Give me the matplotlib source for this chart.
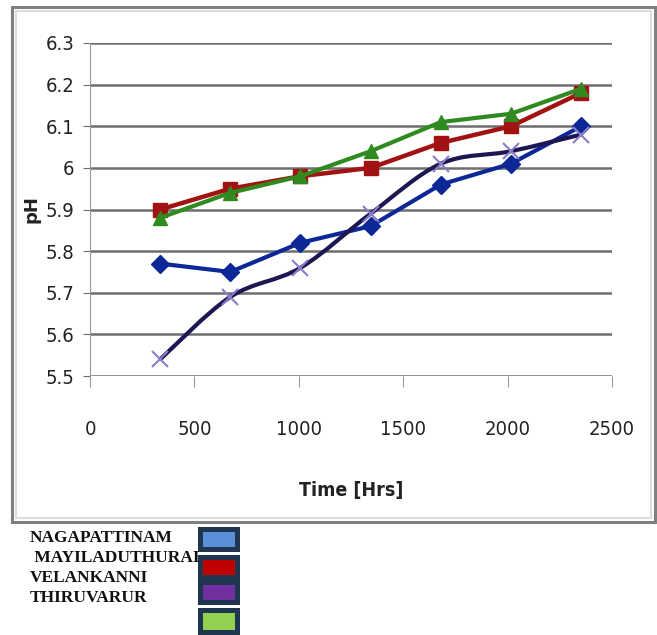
import matplotlib
matplotlib.use("Agg")
import matplotlib.pyplot as plt
from matplotlib.patches import Rectangle, PathPatch
from matplotlib.path import Path
from matplotlib import font_manager

# time in hours
hours = [336, 672, 1008, 1344, 1680, 2016, 2352]
nagapattinam = [5.77, 5.75, 5.82, 5.86, 5.96, 6.01, 6.10]
mayiladuthurai = [5.90, 5.95, 5.98, 6.00, 6.06, 6.10, 6.18]
velankanni = [5.54, 5.69, 5.76, 5.89, 6.01, 6.04, 6.08]
thiruvarur = [5.88, 5.94, 5.98, 6.04, 6.11, 6.13, 6.19]

site_names = ["NAGAPATTINAM", " MAYILADUTHURAI", "VELANKANNI", "THIRUVARUR"]
swatch_colors = ["#5b8fd8", "#c00000", "#7030a0", "#92d050"]

W, H = 657, 635
fig = plt.figure(figsize=(W / 100, H / 100), dpi=100)

# outer chart frame
fig.patches.append(Rectangle((12 / W, 1 - 522 / H), 643 / W, 515 / H, transform=fig.transFigure,
                             fill=False, edgecolor="#808080", lw=2.2))
fig.patches.append(Rectangle((16 / W, 1 - 518 / H), 635 / W, 507 / H, transform=fig.transFigure,
                             fill=False, edgecolor="#dddddd", lw=1.5))

ax = fig.add_axes([90 / W, 1 - 376 / H, 522 / W, 333 / H])

# narrow font for the axis text, if one is around
names = {f.name for f in font_manager.fontManager.ttflist}
narrow = "Liberation Sans Narrow" if "Liberation Sans Narrow" in names else "DejaVu Sans"
print(narrow, sorted(n for n in names if "Narrow" in n or "Condensed" in n))


def smooth_path(xs, ys):
    # Catmull-Rom style curve through the points (like a spreadsheet "smoothed line")
    verts = [(xs[0], ys[0])]
    codes = [Path.MOVETO]
    n = len(xs)
    for i in range(n - 1):
        x0, y0 = (xs[i - 1], ys[i - 1]) if i > 0 else (xs[i], ys[i])
        x1, y1 = xs[i], ys[i]
        x2, y2 = xs[i + 1], ys[i + 1]
        x3, y3 = (xs[i + 2], ys[i + 2]) if i + 2 < n else (x2, y2)
        verts += [(x1 + (x2 - x0) / 6, y1 + (y2 - y0) / 6),
                  (x2 - (x3 - x1) / 6, y2 - (y3 - y1) / 6),
                  (x2, y2)]
        codes += [Path.CURVE4] * 3
    return Path(verts, codes)


ax.plot(hours, nagapattinam, color="#0c2796", lw=3, marker="D", ms=9, zorder=3)
ax.plot(hours, mayiladuthurai, color="#a31212", lw=3.2, marker="s", ms=10, zorder=3)
ax.add_patch(PathPatch(smooth_path(hours, velankanni), fill=False, edgecolor="#1c1752", lw=3, zorder=3))
ax.plot(hours, velankanni, ls="none", marker="x", ms=12, mew=1.5, color="#8a7cc8", zorder=4)
ax.plot(hours, thiruvarur, color="#2f8a1f", lw=3, marker="^", ms=10, zorder=4)

ax.set_xlim(0, 2500)
ax.set_ylim(5.5, 6.3)
ax.set_xticks([0, 500, 1000, 1500, 2000, 2500])
ax.set_yticks([5.5, 5.6, 5.7, 5.8, 5.9, 6.0, 6.1, 6.2, 6.3])
ax.set_yticklabels(["5.5", "5.6", "5.7", "5.8", "5.9", "6", "6.1", "6.2", "6.3"])
ax.grid(axis="y", color="#6e6e6e", lw=1.8)
ax.set_axisbelow(True)
for s in ["top", "right", "bottom"]:
    ax.spines[s].set_visible(False)
ax.spines["left"].set_color("#9a9a9a")
ax.tick_params(axis="y", length=5, color="#6e6e6e", pad=6)
ax.tick_params(axis="x", length=8, color="#9a9a9a", pad=24)
for lab in ax.get_xticklabels() + ax.get_yticklabels():
    lab.set_family(narrow)
    lab.set_fontsize(16 if narrow != "DejaVu Sans" else 14.5)
    lab.set_stretch("condensed")
    lab.set_color("#222222")

ax.set_xlabel("Time [Hrs]", family=narrow, fontsize=14, fontweight="bold", color="#222222",
              labelpad=30, fontstretch="condensed")
ax.set_ylabel("pH", family=narrow, fontsize=13, fontweight="bold", color="#222222", labelpad=4)

# legend drawn below the chart frame
text_y = [538, 558, 578, 598]
for name, ty in zip(site_names, text_y):
    fig.text(30 / W, 1 - ty / H, name, family=["Liberation Serif", "DejaVu Serif"], fontweight="bold",
             fontsize=12.5, va="center", ha="left", color="#111111")

frames = [(527, 552), (555, 580), (580, 605), (608, 635)]
for (t, b), c in zip(frames, swatch_colors):
    fig.patches.append(Rectangle((198 / W, 1 - b / H), 42 / W, (b - t) / H, transform=fig.transFigure,
                                 facecolor="#1f3550", edgecolor="none"))
    fig.patches.append(Rectangle((203 / W, 1 - (b - 5) / H), 32 / W, (b - t - 10) / H, transform=fig.transFigure,
                                 facecolor=c, edgecolor="none"))

fig.savefig("out.png", dpi=100)
